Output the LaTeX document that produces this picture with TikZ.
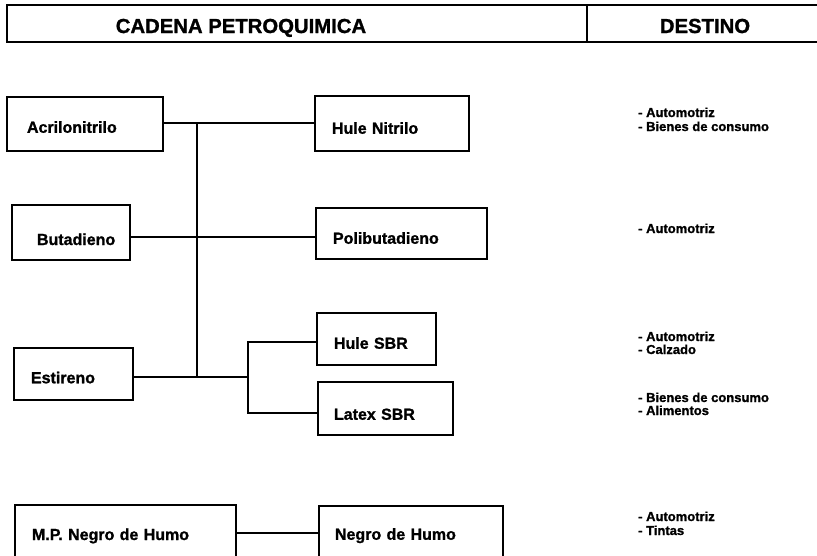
\documentclass[tikz,border=0pt]{standalone}
\usepackage{fontspec}
\setmainfont{Liberation Sans}[BoldFeatures={FakeBold=1.2}]
\begin{document}
\begin{tikzpicture}[x=1pt,y=-1pt,
  conn/.style={line width=1.6pt},
  hline/.style={line width=1.3pt},
  box/.style={draw, line width=1.6pt, align=left, inner ysep=0pt, text depth=0pt,
    font=\fontsize{16}{19}\selectfont\bfseries},
  hdr/.style={anchor=base, inner sep=0pt, font=\fontsize{20.3}{23}\selectfont\bfseries},
  dest/.style={anchor=base west, inner sep=0pt, font=\fontsize{13}{14}\selectfont\bfseries}]
\useasboundingbox (0,0) rectangle (817,555);
\clip (0,0) rectangle (817,555);
% header
\draw[hline] (820,5) -- (7,5) -- (7,42) -- (820,42);
\draw[hline] (587,5) -- (587,42);
\node[hdr] (h1) at (241,33) {CADENA PETROQUIMICA};
\node[hdr] (h2) at (705,33) {DESTINO};
% boxes
\node[box, minimum width=156pt, text width=116pt, inner xsep=20pt, minimum height=54pt, text height=17.5pt] (acr) at (85,124) {Acrilonitrilo};
\node[box, minimum width=154pt, text width=120pt, inner xsep=17pt, minimum height=55pt, text height=20.5pt] (nit) at (392,123.5) {Hule Nitrilo};
\node[box, minimum width=118pt, text width=68pt, inner xsep=25pt, minimum height=55pt, text height=25pt] (but) at (71,232.5) {Butadieno};
\node[box, minimum width=171pt, text width=137pt, inner xsep=17pt, minimum height=51pt, text height=20.5pt] (pol) at (401.5,233.5) {Polibutadieno};
\node[box, minimum width=119pt, text width=85pt, inner xsep=17pt, minimum height=52pt, text height=18.5pt] (est) at (73.5,374) {Estireno};
\node[box, minimum width=119pt, text width=85pt, inner xsep=17pt, minimum height=52pt, text height=19.5pt] (hsbr) at (376.5,339) {Hule SBR};
\node[box, minimum width=135pt, text width=103pt, inner xsep=16pt, minimum height=53pt, text height=22.5pt] (lsbr) at (385.5,408.5) {Latex SBR};
\node[box, minimum width=221pt, text width=187pt, inner xsep=17pt, minimum height=60pt, text height=10pt] (mp) at (125.5,535) {M.P. Negro de Humo};
\node[box, minimum width=184pt, text width=152pt, inner xsep=16pt, minimum height=59pt, text height=8.5pt] (neg) at (411,535.5) {Negro de Humo};
% connector coordinates
\coordinate (t1) at (197,123);
\coordinate (t2) at (197,237);
\coordinate (t3) at (197,377);
\coordinate (b0) at (248,377);
\coordinate (b1) at (248,342);
\coordinate (b2) at (248,413);
\coordinate (m) at (0,533);
% connectors
\draw[conn] (acr.east|-t1) -- (nit.west|-t1);
\draw[conn] (t1) -- (t3);
\draw[conn] (but.east|-t2) -- (pol.west|-t2);
\draw[conn] (est.east|-t3) -- (b0);
\draw[conn] (hsbr.west|-b1) -- (b1) -- (b2) -- (lsbr.west|-b2);
\draw[conn] (mp.east|-m) -- (neg.west|-m);
% destinations
\node[dest] (d1a) at (638,117) {- Automotriz};
\node[dest] (d1b) at (638,131) {- Bienes de consumo};
\node[dest] (d2) at (638,233) {- Automotriz};
\node[dest] (d3a) at (638,341) {- Automotriz};
\node[dest] (d3b) at (638,354) {- Calzado};
\node[dest] (d4a) at (638,402) {- Bienes de consumo};
\node[dest] (d4b) at (638,415) {- Alimentos};
\node[dest] (d5a) at (638,521) {- Automotriz};
\node[dest] (d5b) at (638,535) {- Tintas};
\end{tikzpicture}
\end{document}
